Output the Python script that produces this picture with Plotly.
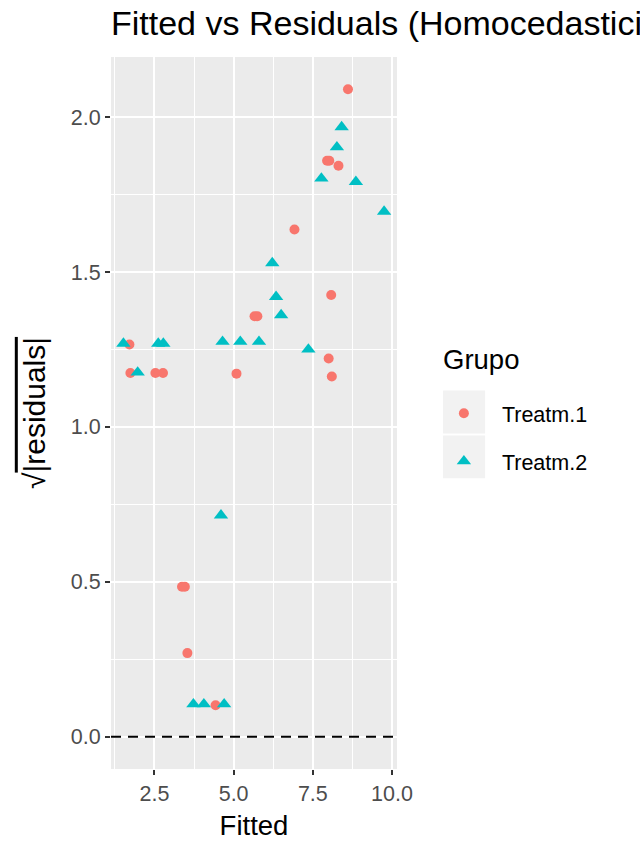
import plotly.graph_objects as go

# Fitted values and sqrt(|residuals|) per treatment group
treat1_fitted = [8.61, 7.95, 8.02, 8.31, 6.92, 8.08, 5.66, 5.75, 1.71, 8.00,
                 1.74, 2.53, 2.77, 5.09, 8.10, 3.37, 3.46, 3.54, 4.43]
treat1_sqrt_res = [2.090, 1.859, 1.859, 1.843, 1.637, 1.426, 1.357, 1.357, 1.266, 1.221,
                   1.174, 1.174, 1.174, 1.172, 1.163, 0.484, 0.484, 0.270, 0.102]

treat2_fitted = [8.41, 8.26, 7.77, 8.86, 9.75, 6.22, 6.34, 6.50, 1.52, 2.62,
                 2.78, 4.65, 5.21, 5.80, 7.36, 1.97, 4.60, 3.73, 4.06, 4.70]
treat2_sqrt_res = [1.968, 1.903, 1.802, 1.791, 1.695, 1.529, 1.420, 1.361, 1.269, 1.269,
                   1.269, 1.275, 1.275, 1.275, 1.250, 1.176, 0.715, 0.105, 0.105, 0.105]

group_names = ["Treatm.1", "Treatm.2"]
reference_level = 0.0

x_ticks = [2.5, 5.0, 7.5, 10.0]
x_tick_labels = ["2.5", "5.0", "7.5", "10.0"]
y_ticks = [0.0, 0.5, 1.0, 1.5, 2.0]
y_tick_labels = ["0.0", "0.5", "1.0", "1.5", "2.0"]

RED = "#F8766D"
CYAN = "#00BFC4"
FONT = "Liberation Sans, Arial, sans-serif"

fig = go.Figure()
fig.add_trace(go.Scatter(
    x=treat1_fitted, y=treat1_sqrt_res, mode="markers", name=group_names[0],
    legendgroup="g1",
    marker=dict(symbol="circle", size=10, color=RED, line=dict(width=0)),
))
fig.add_trace(go.Scatter(
    x=treat2_fitted, y=treat2_sqrt_res, mode="markers", name=group_names[1],
    legendgroup="g2",
    marker=dict(symbol="triangle-up", size=12.5, color=CYAN, line=dict(width=0)),
))

# dashed horizontal reference line
fig.add_shape(type="line", xref="paper", yref="y", x0=0, x1=1,
              y0=reference_level, y1=reference_level,
              line=dict(color="black", width=2, dash="10px,7px"), layer="above")

# grey key backgrounds in the legend
for y0, y1 in [(0.4713, 0.5315), (0.4084, 0.4685)]:
    fig.add_shape(type="rect", xref="paper", yref="paper", x0=1.161, x1=1.308,
                  y0=y0, y1=y1, fillcolor="#F2F2F2", line=dict(width=0), layer="below")

fig.add_annotation(text="Grupo", xref="paper", yref="paper", x=1.154, y=0.575,
                   xanchor="left", yanchor="middle", showarrow=False,
                   font=dict(family=FONT, size=27.5, color="black"))

axis_common = dict(
    showgrid=True, gridcolor="white", gridwidth=2,
    zeroline=False, showline=False,
    ticks="outside", ticklen=5, tickwidth=1.5, tickcolor="#333333",
    tickfont=dict(family=FONT, size=21.5, color="#4D4D4D"),
    minor=dict(showgrid=True, gridcolor="white", gridwidth=1),
)

fig.update_xaxes(
    range=[1.128, 10.158], tickmode="array", tickvals=x_ticks, ticktext=x_tick_labels,
    title=dict(text="Fitted", font=dict(family=FONT, size=27.5, color="black"), standoff=10),
    **axis_common,
)
fig.update_xaxes(minor=dict(tickmode="array", tickvals=[1.25, 3.75, 6.25, 8.75], ticks=""))
fig.update_yaxes(
    range=[-0.104, 2.194], tickmode="array", tickvals=y_ticks, ticktext=y_tick_labels,
    title=dict(text="√<span style='text-decoration:overline'>|residuals|</span>",
               font=dict(family=FONT, size=30, color="black"), standoff=16),
    **axis_common,
)
fig.update_yaxes(minor=dict(tickmode="array", tickvals=[0.25, 0.75, 1.25, 1.75], ticks=""))

fig.update_layout(
    width=640, height=847,
    margin=dict(l=111, r=243, t=57, b=75, pad=0),
    paper_bgcolor="white", plot_bgcolor="#EBEBEB",
    font=dict(family=FONT, color="black"),
    title=dict(text="Fitted vs Residuals (Homocedasticity)", xref="container", x=111 / 640,
               xanchor="left", yref="container", y=1 - 23 / 847, yanchor="middle",
               font=dict(family=FONT, size=34, color="black")),
    showlegend=True,
    legend=dict(x=1.101, y=0.466, xanchor="left", yanchor="middle",
                itemwidth=66, tracegroupgap=17, traceorder="grouped",
                font=dict(family=FONT, size=21.5, color="black"),
                bgcolor="rgba(0,0,0,0)"),
)

fig.write_html("out.html")
